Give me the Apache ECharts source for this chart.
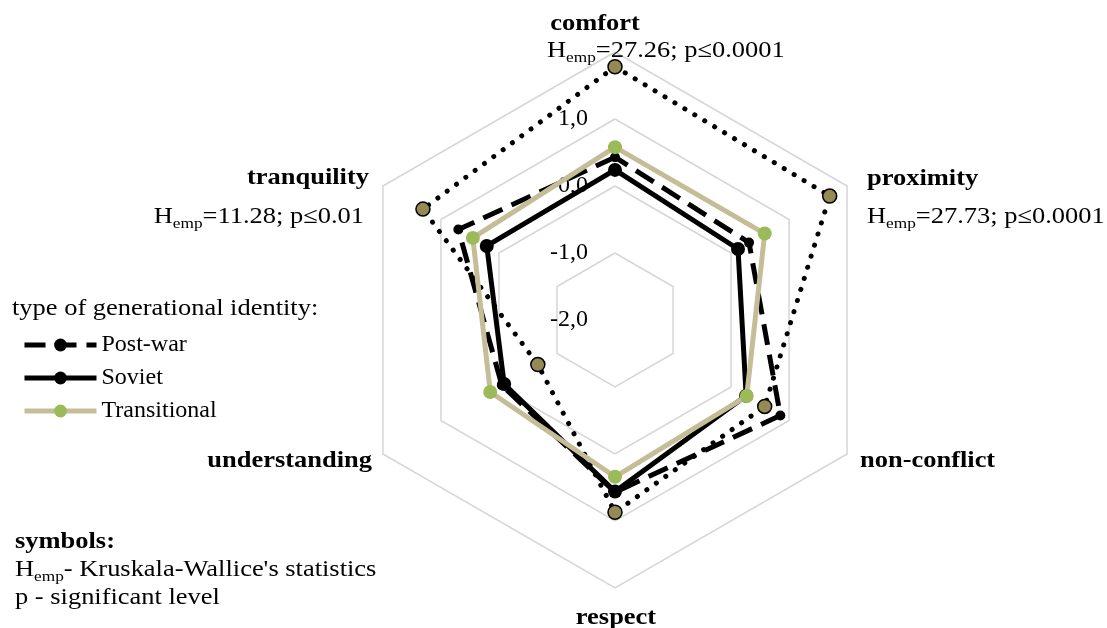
<!DOCTYPE html>
<html><head><meta charset="utf-8">
<script src="https://cdn.jsdelivr.net/npm/echarts@6/dist/echarts.min.js"></script>
<style>html,body{margin:0;padding:0;background:#fff}#c{width:1107px;height:628px}</style>
</head><body><div id="c"></div>
<script>
// Categories in the radar's drawing order (starting at the top, going round)
const categories = ['comfort', 'tranquility', 'understanding', 'respect', 'non-conflict', 'proximity'];
const seriesNames = ['Post-war', 'Soviet', 'Transitional'];
const postWar      = [0.43, 0.70, -0.05, 0.57, 0.85, 0.31];
const soviet       = [0.24, 0.21, -0.09, 0.56, 0.26, 0.12];
const transitional = [0.58, 0.45, 0.15, 0.34, 0.27, 0.58];
const hempSeries   = [1.78, 1.31, -0.67, 0.87, 0.58, 1.70];
const hempStats = { comfort: '=27.26; p≤0.0001', proximity: '=27.73; p≤0.0001', tranquility: '=11.28; p≤0.01' };
const tickValues = [-2, -1, 0, 1];
const tickLabels = ['-2,0', '-1,0', '0,0', '1,0'];
const axisMin = -2, axisMax = 2;

const FONT = '"Liberation Serif","Times New Roman",serif';
const SX = 1.15;
function rich() {
  return {
    n: { fontFamily: FONT, fontSize: 23, lineHeight: 30, fill: '#000' },
    s: { fontFamily: FONT, fontSize: 15, lineHeight: 13, verticalAlign: 'bottom', fill: '#000' },
    b: { fontFamily: FONT, fontSize: 23, fontWeight: 'bold', lineHeight: 30, fill: '#000' }
  };
}
function txt(x, y, text, align) {
  return { type: 'text', x: x, y: y, scaleX: SX, silent: true, z: 100,
    style: { text: text, align: align, textAlign: align, verticalAlign: 'middle', textVerticalAlign: 'middle',
      fontFamily: FONT, fontSize: 23, fill: '#000', rich: rich() } };
}

const colors = { black: '#000000', tan: '#C4BD97', green: '#9BBB59', olive: '#948A54', grid: '#D6D6D6' };
const styles = {
  'Post-war':     { line: { color: colors.black, width: 5, type: [21, 10] }, item: { color: colors.black }, size: 10 },
  'Soviet':       { line: { color: colors.black, width: 5, type: 'solid' }, item: { color: colors.black }, size: 14 },
  'Transitional': { line: { color: colors.tan, width: 5, type: 'solid' }, item: { color: colors.green }, size: 14 }
};
const valuesByName = { 'Post-war': postWar, 'Soviet': soviet, 'Transitional': transitional };

const chart = echarts.init(document.getElementById('c'), null, { renderer: 'canvas' });

// legend-only line series (empty), so the legend shows line + marker icons
const legendSeries = seriesNames.map(n => ({
  type: 'line', name: n, data: [], xAxisIndex: 0, yAxisIndex: 0,
  symbol: 'circle', symbolSize: styles[n].size,
  lineStyle: styles[n].line, itemStyle: styles[n].item
}));

const radarSeries = [
  {
    type: 'radar', radarIndex: 0, name: 'H_emp', z: 2,
    symbol: 'circle', symbolSize: 14,
    lineStyle: { color: colors.black, width: 5, type: [0.1, 11.5], cap: 'round' },
    itemStyle: { color: colors.olive, borderColor: '#000', borderWidth: 1.5 },
    data: [{ name: 'H_emp', value: hempSeries }]
  }
].concat(seriesNames.map((n, i) => ({
  type: 'radar', radarIndex: 0, name: n, z: 3 + i,
  symbol: 'circle', symbolSize: styles[n].size,
  lineStyle: styles[n].line, itemStyle: styles[n].item,
  data: [{ name: n, value: valuesByName[n] }]
})));

const option = {
  animation: false,
  backgroundColor: '#fff',
  grid: { show: false, left: -20, top: -20, width: 1, height: 1 },
  xAxis: { type: 'category', show: false, data: [] },
  yAxis: { type: 'value', show: false },
  legend: {
    data: seriesNames, orient: 'vertical', left: 22, top: 333, padding: 0,
    itemWidth: 72, itemHeight: 16, itemGap: 9, selectedMode: false,
    lineStyle: { width: 5 },
    textStyle: { fontFamily: FONT, fontSize: 24, color: '#000', lineHeight: 24 }
  },
  radar: [
    {
      center: [615, 320], radius: 268, startAngle: 90, shape: 'polygon', splitNumber: 4,
      indicator: categories.map(n => ({ name: n, min: axisMin, max: axisMax })),
      axisName: { show: false },
      axisLine: { show: false }, axisTick: { show: false }, axisLabel: { show: false },
      splitLine: { lineStyle: { color: colors.grid, width: 1.5 } },
      splitArea: { show: false }
    },
    {
      center: [615, 320], radius: 268, startAngle: 90, shape: 'polygon', splitNumber: 4,
      indicator: [{ name: '', min: axisMin, max: axisMax }],
      axisName: { show: false },
      axisLine: { show: false }, axisTick: { show: false },
      splitLine: { show: false }, splitArea: { show: false },
      axisLabel: {
        show: true, margin: 27, fontFamily: FONT, fontSize: 24, color: '#000',
        formatter: function (v) {
          const i = tickValues.indexOf(Math.round(v * 1000) / 1000);
          return i >= 0 ? tickLabels[i] : '';
        }
      }
    }
  ],
  series: legendSeries.concat(radarSeries),
  graphic: [
    txt(595, 24, '{b|' + categories[0] + '}', 'center'),
    txt(547, 51, '{n|H}{s|emp}{n|' + hempStats.comfort + '}', 'left'),
    txt(867, 179.5, '{b|' + categories[5] + '}', 'left'),
    txt(867, 217, '{n|H}{s|emp}{n|' + hempStats.proximity + '}', 'left'),
    txt(369, 178.5, '{b|' + categories[1] + '}', 'right'),
    txt(364, 216.5, '{n|H}{s|emp}{n|' + hempStats.tranquility + '}', 'right'),
    txt(860, 461.5, '{b|' + categories[4] + '}', 'left'),
    txt(372, 461, '{b|' + categories[2] + '}', 'right'),
    txt(616, 618.5, '{b|' + categories[3] + '}', 'center'),
    txt(12, 309, '{n|type of generational identity:}', 'left'),
    txt(15, 542.5, '{b|symbols:}', 'left'),
    txt(15, 570, '{n|H}{s|emp}{n|- Kruskala-Wallice\'s statistics}', 'left'),
    txt(15, 597.5, '{n|p - significant level}', 'left')
  ]
};
chart.setOption(option);
</script>
</body></html>
